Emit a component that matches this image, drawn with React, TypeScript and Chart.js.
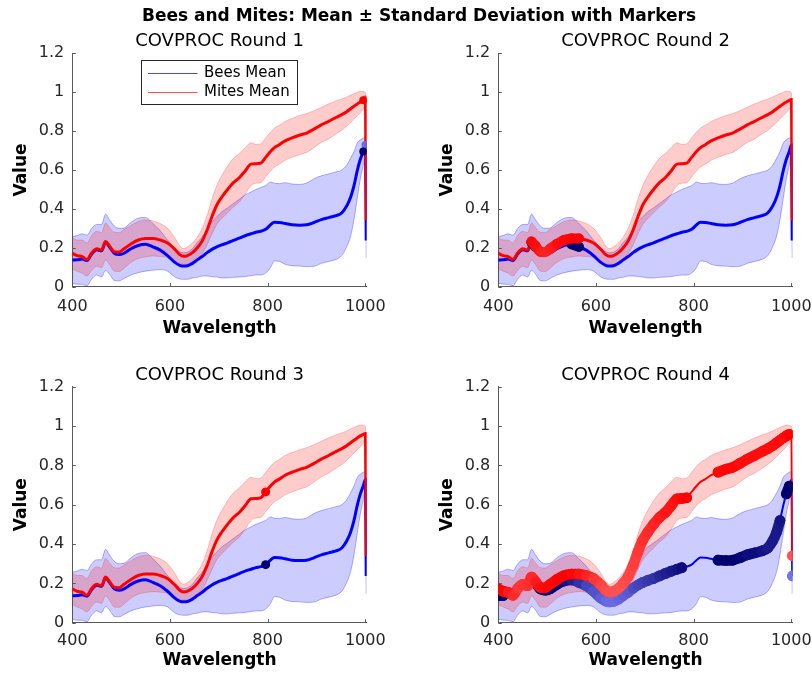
import React, { useEffect, useRef } from "react";
import { Chart, registerables } from "chart.js";

Chart.register(...registerables);

// ---------------- data ----------------
const wavelengths = [
  400, 410, 420, 430, 440, 450, 460, 468, 476, 486,
  496, 506, 520, 535, 550, 565, 580, 595, 610, 620,
  628, 636, 646, 656, 666, 676, 686, 696, 706, 718,
  730, 742, 754, 766, 776, 786, 796, 806, 814, 824,
  836, 850, 866, 880, 895, 910, 925, 940, 952, 962,
  970, 977, 984, 990, 996, 1000.5, 1002,
];

const beesMean = [
  0.137, 0.138, 0.142, 0.135, 0.17, 0.19, 0.185, 0.228, 0.205, 0.172,
  0.165, 0.172, 0.195, 0.212, 0.218, 0.205, 0.188, 0.16, 0.125, 0.11,
  0.106, 0.108, 0.12, 0.138, 0.155, 0.175, 0.192, 0.205, 0.215, 0.225,
  0.238, 0.25, 0.262, 0.272, 0.28, 0.285, 0.295, 0.318, 0.332, 0.33,
  0.325, 0.318, 0.316, 0.318, 0.33, 0.345, 0.355, 0.365, 0.38, 0.415,
  0.46, 0.52, 0.6, 0.655, 0.695, 0.728, 0.238,
];

const beesStd = [
  0.12, 0.125, 0.13, 0.13, 0.13, 0.13, 0.135, 0.145, 0.14, 0.14,
  0.135, 0.13, 0.135, 0.14, 0.138, 0.12, 0.1, 0.08, 0.075, 0.07,
  0.068, 0.07, 0.075, 0.09, 0.1, 0.12, 0.14, 0.155, 0.17, 0.18,
  0.19, 0.2, 0.21, 0.215, 0.22, 0.225, 0.225, 0.22, 0.2, 0.2,
  0.21, 0.21, 0.21, 0.215, 0.225, 0.225, 0.225, 0.225, 0.22, 0.21,
  0.2, 0.175, 0.14, 0.1, 0.07, 0.04, 0.09,
];

const mitesMean = [
  0.172, 0.16, 0.155, 0.14, 0.175, 0.195, 0.188, 0.232, 0.21, 0.18,
  0.178, 0.195, 0.22, 0.24, 0.248, 0.248, 0.24, 0.225, 0.192, 0.165,
  0.156, 0.16, 0.175, 0.2, 0.235, 0.29, 0.36, 0.42, 0.46, 0.5,
  0.535, 0.56, 0.595, 0.63, 0.632, 0.635, 0.665, 0.695, 0.715, 0.73,
  0.75, 0.765, 0.78, 0.79, 0.81, 0.832, 0.85, 0.87, 0.885, 0.9,
  0.915, 0.928, 0.94, 0.95, 0.958, 0.962, 0.34,
];

const mitesStd = [
  0.08, 0.08, 0.085, 0.085, 0.09, 0.09, 0.09, 0.095, 0.095, 0.1,
  0.1, 0.1, 0.095, 0.095, 0.095, 0.09, 0.085, 0.075, 0.06, 0.045,
  0.04, 0.045, 0.05, 0.055, 0.065, 0.075, 0.09, 0.1, 0.11, 0.12,
  0.125, 0.125, 0.12, 0.11, 0.1, 0.1, 0.1, 0.1, 0.1, 0.1,
  0.1, 0.1, 0.1, 0.1, 0.095, 0.09, 0.09, 0.085, 0.08, 0.075,
  0.07, 0.065, 0.06, 0.055, 0.045, 0.035, 0.01,
];

const xTicks = [400, 600, 800, 1000];
const yTicks = [0, 0.2, 0.4, 0.6, 0.8, 1, 1.2];
const xMin = 400;
const xMax = 1003;
const yMin = 0;
const yMax = 1.2;

const figureTitle = "Bees and Mites: Mean ± Standard Deviation with Markers";
const roundTitles = ["COVPROC Round 1", "COVPROC Round 2", "COVPROC Round 3", "COVPROC Round 4"];
const xLabel = "Wavelength";
const yLabel = "Value";
const legendLabels = ["Bees Mean", "Mites Mean"];

// marker wavelengths (selected bands) and their intensities (0 light .. 1 dark)
const round1BeesMarkerWl = [1000.5, 996];
const round1BeesMarkerWeight = [0.15, 1];
const round1MitesMarkerWl = [1000.5, 996];
const round1MitesMarkerWeight = [0.5, 1];

const round2BeesMarkerWl = [468, 476, 550, 565];
const round2BeesMarkerWeight = [1, 1, 1, 1];
const round2MitesMarkerWl = [468, 476, 486, 496, 506, 520, 535, 550, 565];
const round2MitesMarkerWeight = [0.95, 0.9, 0.8, 0.75, 0.8, 0.9, 0.95, 1, 1];

const round3BeesMarkerWl = [796];
const round3BeesMarkerWeight = [1];
const round3MitesMarkerWl = [796];
const round3MitesMarkerWeight = [1];

const round4BeesMarkerWl = [
  400, 410, 476, 486, 496, 506, 520, 535, 550, 565, 580, 595, 610, 620, 628, 636, 646, 656, 666, 676,
  686, 696, 706, 718, 730, 742, 754, 766, 776, 850, 866, 880, 895, 910, 925, 940, 952, 962, 970, 977,
  990, 996, 1002,
];
const round4BeesMarkerWeight = [
  1, 1, 1, 1, 1, 1, 0.95, 0.85, 0.75, 0.6, 0.45, 0.35, 0.25, 0.18, 0.15, 0.15, 0.2, 0.25, 0.3, 0.4,
  0.45, 0.5, 0.55, 0.6, 0.7, 0.75, 0.8, 0.85, 0.9, 1, 1, 1, 0.95, 0.9, 0.9, 0.85, 0.8, 0.8, 0.8, 0.85,
  1, 1, 0.1,
];
const round4MitesMarkerWl = [
  400, 410, 420, 430, 440, 450, 460, 468, 476, 486, 496, 506, 520, 535, 550, 565, 580, 595, 610, 620,
  628, 636, 646, 656, 666, 676, 686, 696, 706, 718, 730, 742, 754, 766, 776, 786,
  850, 866, 880, 895, 910, 925, 940, 952, 962, 970, 977, 984, 990, 996, 1002,
];
const round4MitesMarkerWeight = [
  1, 0.95, 0.8, 0.7, 0.6, 0.6, 0.65, 0.7, 0.8, 0.9, 0.95, 0.95, 1, 1, 0.95, 0.85, 0.75, 0.6, 0.5, 0.45,
  0.4, 0.4, 0.4, 0.45, 0.5, 0.55, 0.6, 0.65, 0.7, 0.75, 0.8, 0.85, 0.85, 0.9, 0.95, 1,
  0.95, 0.95, 0.95, 0.9, 0.9, 0.9, 0.9, 0.9, 0.9, 0.9, 0.9, 0.9, 0.95, 1, 0.4,
];

// ---------------- styling / layout ----------------
const FONT = '"DejaVu Sans", sans-serif';
const AXIS_COLOR = "#5a5a5a";
const TICK_COLOR = "#262626";
const Y_AXIS_W = 72.3;

const rounds = [
  { beesWl: round1BeesMarkerWl, beesW: round1BeesMarkerWeight, mitesWl: round1MitesMarkerWl, mitesW: round1MitesMarkerWeight, radius: 4, lineW: 3 },
  { beesWl: round2BeesMarkerWl, beesW: round2BeesMarkerWeight, mitesWl: round2MitesMarkerWl, mitesW: round2MitesMarkerWeight, radius: 5, lineW: 3 },
  { beesWl: round3BeesMarkerWl, beesW: round3BeesMarkerWeight, mitesWl: round3MitesMarkerWl, mitesW: round3MitesMarkerWeight, radius: 4.5, lineW: 3 },
  { beesWl: round4BeesMarkerWl, beesW: round4BeesMarkerWeight, mitesWl: round4MitesMarkerWl, mitesW: round4MitesMarkerWeight, radius: 5.3, lineW: 2 },
];

const panels = [
  { cx: 0, cy: 0, cw: 406, ch: 340, plotL: 72.3, plotT: 53.3, plotR: 366.7, plotB: 286.7, xTickPad: 11, xTitleC: 328.8, titleBase: 46, legend: true },
  { cx: 406, cy: 0, cw: 406, ch: 340, plotL: 498.3, plotT: 53.3, plotR: 792.7, plotB: 286.7, xTickPad: 11, xTitleC: 328.8, titleBase: 46, legend: false },
  { cx: 0, cy: 340, cw: 406, ch: 337, plotL: 72.3, plotT: 386.7, plotR: 366.7, plotB: 622.7, xTickPad: 8.5, xTitleC: 661, titleBase: 380, legend: false },
  { cx: 406, cy: 340, cw: 406, ch: 337, plotL: 498.3, plotT: 386.7, plotR: 792.7, plotB: 622.7, xTickPad: 8.5, xTitleC: 661, titleBase: 380, legend: false },
];

function beesColor(w: number) {
  const c = Math.round(125 * (1 - w));
  return `rgb(${c},${c},${Math.round(250 - 140 * w)})`;
}
function mitesColor(w: number) {
  const c = Math.round(135 * (1 - w));
  return `rgb(255,${c},${c})`;
}

function series(values: number[]) {
  return wavelengths.map((x, i) => ({ x, y: values[i] }));
}
function band(mean: number[], std: number[], sign: number) {
  return wavelengths.map((x, i) => ({ x, y: mean[i] + sign * std[i] }));
}

// Markers: points taken from the mean series at the selected wavelengths.
// Runs of neighbouring selected wavelengths are joined by a thick trail (dense markers),
// separate runs are split by a null gap.
function markerTrail(wls: number[], weights: number[], mean: number[], colorFn: (w: number) => string) {
  const data: any[] = [];
  const colors: string[] = [];
  wls.forEach((w, k) => {
    const idx = wavelengths.indexOf(w);
    data.push({ x: w, y: mean[idx] });
    colors.push(colorFn(weights[k]));
    if (k < wls.length - 1) {
      const nextIdx = wavelengths.indexOf(wls[k + 1]);
      if (nextIdx !== idx + 1) {
        data.push({ x: (w + wls[k + 1]) / 2, y: null });
        colors.push("rgba(0,0,0,0)");
      }
    }
  });
  return { data, colors };
}

const tickMarkPlugin = {
  id: "tickMarks",
  afterDraw(chart: any) {
    const { ctx, chartArea: a, scales } = chart;
    const x = scales.x;
    const y = scales.y;
    ctx.save();
    ctx.strokeStyle = AXIS_COLOR;
    ctx.lineWidth = 1;
    ctx.beginPath();
    xTicks.forEach((v) => {
      const px = Math.round(x.getPixelForValue(v)) + 0.5;
      ctx.moveTo(px, a.bottom);
      ctx.lineTo(px, a.bottom - 3.5);
    });
    yTicks.forEach((v) => {
      const py = Math.round(y.getPixelForValue(v)) + 0.5;
      ctx.moveTo(a.left, py);
      ctx.lineTo(a.left + 3.5, py);
    });
    ctx.stroke();
    ctx.restore();
  },
};

const legendPlugin = {
  id: "boxLegend",
  afterDraw(chart: any) {
    const { ctx, chartArea: a } = chart;
    const bx = Math.round(a.left + 68.4) + 0.5;
    const by = Math.round(a.top + 7) + 0.5;
    const bw = 156;
    const bh = 44;
    ctx.save();
    ctx.fillStyle = "#ffffff";
    ctx.fillRect(bx, by, bw, bh);
    ctx.strokeStyle = "#262626";
    ctx.lineWidth = 1;
    ctx.strokeRect(bx, by, bw, bh);
    const colors = ["#4848ff", "#ff5050"];
    const rows = [by + 13, by + 32];
    legendLabels.forEach((label, i) => {
      ctx.strokeStyle = colors[i];
      ctx.lineWidth = 1.2;
      ctx.beginPath();
      ctx.moveTo(bx + 6.5, rows[i]);
      ctx.lineTo(bx + 56, rows[i]);
      ctx.stroke();
      ctx.fillStyle = "#000000";
      ctx.font = `15px ${FONT}`;
      ctx.textBaseline = "middle";
      ctx.textAlign = "left";
      ctx.fillText(label, bx + 62.5, rows[i]);
    });
    ctx.restore();
  },
};

function markerDataset(label: string, trail: any, radius: number, order: number) {
  return {
    label,
    data: trail.data,
    showLine: true,
    spanGaps: false,
    borderWidth: radius * 2,
    borderCapStyle: "round",
    borderJoinStyle: "round",
    cubicInterpolationMode: "monotone",
    borderColor: trail.colors[0],
    segment: {
      borderColor: (ctx: any) => trail.colors[ctx.p0DataIndex],
    },
    pointRadius: radius,
    pointBorderWidth: 0,
    pointBackgroundColor: trail.colors,
    pointBorderColor: trail.colors,
    fill: false,
    order,
  };
}

function buildConfig(p: any, r: any): any {
  const beesTrail = markerTrail(r.beesWl, r.beesW, beesMean, beesColor);
  const mitesTrail = markerTrail(r.mitesWl, r.mitesW, mitesMean, mitesColor);
  const datasets: any[] = [
    {
      label: "Bees +SD", data: band(beesMean, beesStd, 1), fill: "+1",
      backgroundColor: "rgba(0,0,255,0.2)", borderColor: "rgba(0,0,255,0.3)", borderWidth: 1,
      pointRadius: 0, cubicInterpolationMode: "monotone", order: 6,
    },
    {
      label: "Bees -SD", data: band(beesMean, beesStd, -1), fill: false,
      borderColor: "rgba(0,0,255,0.3)", borderWidth: 1,
      pointRadius: 0, cubicInterpolationMode: "monotone", order: 6,
    },
    {
      label: "Mites +SD", data: band(mitesMean, mitesStd, 1), fill: "+1",
      backgroundColor: "rgba(255,0,0,0.2)", borderColor: "rgba(255,0,0,0.22)", borderWidth: 1,
      pointRadius: 0, cubicInterpolationMode: "monotone", order: 5,
    },
    {
      label: "Mites -SD", data: band(mitesMean, mitesStd, -1), fill: false,
      borderColor: "rgba(255,0,0,0.22)", borderWidth: 1,
      pointRadius: 0, cubicInterpolationMode: "monotone", order: 5,
    },
    {
      label: legendLabels[0], data: series(beesMean), fill: false,
      borderColor: "#0000ff", borderWidth: r.lineW, pointRadius: 0,
      cubicInterpolationMode: "monotone", order: 4,
    },
    {
      label: legendLabels[1], data: series(mitesMean), fill: false,
      borderColor: "#ff0000", borderWidth: r.lineW, pointRadius: 0,
      cubicInterpolationMode: "monotone", order: 3,
    },
    markerDataset("Bees markers", beesTrail, r.radius, 2),
    markerDataset("Mites markers", mitesTrail, r.radius, 1),
  ];

  const xAxisH = p.cy + p.ch - p.plotB;
  const xTitlePadBottom = p.cy + p.ch - p.xTitleC - 10.2;

  return {
    type: "line",
    data: { datasets },
    options: {
      responsive: false,
      animation: false,
      events: [],
      layout: {
        padding: {
          left: p.plotL - p.cx - Y_AXIS_W,
          top: p.plotT - p.cy,
          right: p.cx + p.cw - p.plotR,
          bottom: 0,
        },
      },
      plugins: {
        legend: { display: false },
        tooltip: { enabled: false },
        title: { display: false },
      },
      scales: {
        x: {
          type: "linear",
          min: xMin,
          max: xMax,
          z: 1,
          afterBuildTicks: (s: any) => {
            s.ticks = xTicks.map((v) => ({ value: v }));
          },
          afterFit: (s: any) => {
            s.height = xAxisH;
            s.paddingLeft = 0;
            s.paddingRight = 0;
          },
          grid: { display: true, drawOnChartArea: false, drawTicks: false },
          border: { display: true, color: AXIS_COLOR, width: 1 },
          ticks: {
            color: TICK_COLOR,
            font: { family: FONT, size: 16 },
            padding: p.xTickPad,
            maxRotation: 0,
            autoSkip: false,
            callback: (v: any) => String(v),
          },
          title: {
            display: true,
            text: xLabel,
            color: "#000000",
            font: { family: FONT, size: 17, weight: "bold" },
            padding: { top: 0, bottom: xTitlePadBottom },
          },
        },
        y: {
          type: "linear",
          min: yMin,
          max: yMax,
          z: 1,
          afterBuildTicks: (s: any) => {
            s.ticks = yTicks.map((v) => ({ value: v }));
          },
          afterFit: (s: any) => {
            s.width = Y_AXIS_W;
            s.paddingTop = 0;
            s.paddingBottom = 0;
          },
          grid: { display: true, drawOnChartArea: false, drawTicks: false },
          border: { display: true, color: AXIS_COLOR, width: 1 },
          ticks: {
            color: TICK_COLOR,
            font: { family: FONT, size: 16 },
            padding: 8,
            autoSkip: false,
            callback: (v: any) => String(v),
          },
          title: {
            display: true,
            text: yLabel,
            color: "#000000",
            font: { family: FONT, size: 17, weight: "bold" },
            padding: { top: 11, bottom: 0 },
          },
        },
      },
    },
    plugins: p.legend ? [tickMarkPlugin, legendPlugin] : [tickMarkPlugin],
  };
}

function Panel({ index }: { index: number }) {
  const ref = useRef<HTMLCanvasElement | null>(null);
  const p = panels[index];
  useEffect(() => {
    const chart = new Chart(ref.current as HTMLCanvasElement, buildConfig(p, rounds[index]));
    return () => chart.destroy();
  }, [index]);
  return (
    <canvas
      ref={ref}
      width={p.cw}
      height={p.ch}
      style={{ position: "absolute", left: p.cx, top: p.cy, width: p.cw, height: p.ch }}
    />
  );
}

export default function App() {
  return (
    <div
      style={{
        position: "absolute",
        left: 0,
        top: 0,
        width: 812,
        height: 677,
        overflow: "hidden",
        background: "#ffffff",
        fontFamily: FONT,
      }}
    >
      {panels.map((p, i) => (
        <Panel key={"c" + i} index={i} />
      ))}
      {panels.map((p, i) => {
        const center = (p.plotL + p.plotR) / 2;
        return (
          <div
            key={"t" + i}
            style={{
              position: "absolute",
              left: center - 150,
              width: 300,
              top: p.titleBase - 17.2,
              textAlign: "center",
              fontSize: 18,
              lineHeight: "22px",
              color: "#000",
              whiteSpace: "nowrap",
            }}
          >
            {roundTitles[i]}
          </div>
        );
      })}
      <div
        style={{
          position: "absolute",
          left: 38,
          width: 762,
          top: 4.8,
          textAlign: "center",
          fontSize: 17,
          fontWeight: "bold",
          lineHeight: "20px",
          color: "#000",
          whiteSpace: "nowrap",
        }}
      >
        {figureTitle}
      </div>
    </div>
  );
}
